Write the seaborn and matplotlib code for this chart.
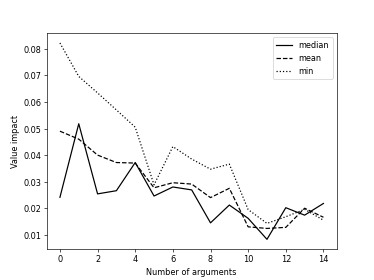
import pandas as pd
import matplotlib
matplotlib.use("Agg")
import matplotlib.pyplot as plt
import seaborn as sns

# values
n_args = list(range(15))
median = [0.0241, 0.0518, 0.0254, 0.0266, 0.0372, 0.0246, 0.0280, 0.0269,
          0.0145, 0.0212, 0.0162, 0.0083, 0.0202, 0.0174, 0.0218]
mean = [0.0490, 0.0460, 0.0400, 0.0372, 0.0370, 0.0277, 0.0296, 0.0291,
        0.0240, 0.0275, 0.0130, 0.0124, 0.0128, 0.0200, 0.0166]
minimum = [0.0822, 0.0696, 0.0634, 0.0570, 0.0505, 0.0288, 0.0432, 0.0385,
           0.0347, 0.0366, 0.0195, 0.0143, 0.0168, 0.0196, 0.0155]

df = pd.DataFrame({"n": n_args * 3,
                   "value": median + mean + minimum,
                   "stat": ["median"] * 15 + ["mean"] * 15 + ["min"] * 15})

fig, ax = plt.subplots(figsize=(6.4, 4.8), dpi=58.44)
styles = {"median": "-", "mean": "--", "min": ":"}
for stat, ls in styles.items():
    sub = df[df["stat"] == stat]
    sns.lineplot(data=sub, x="n", y="value", ax=ax, color="black",
                 linestyle=ls, label=stat)

ax.set_xticks(range(0, 15, 2))
ax.set_xlabel("Number of arguments")
ax.set_ylabel("Value impact")
ax.legend(loc="upper right")

fig.savefig("out.png", dpi=58.44)
